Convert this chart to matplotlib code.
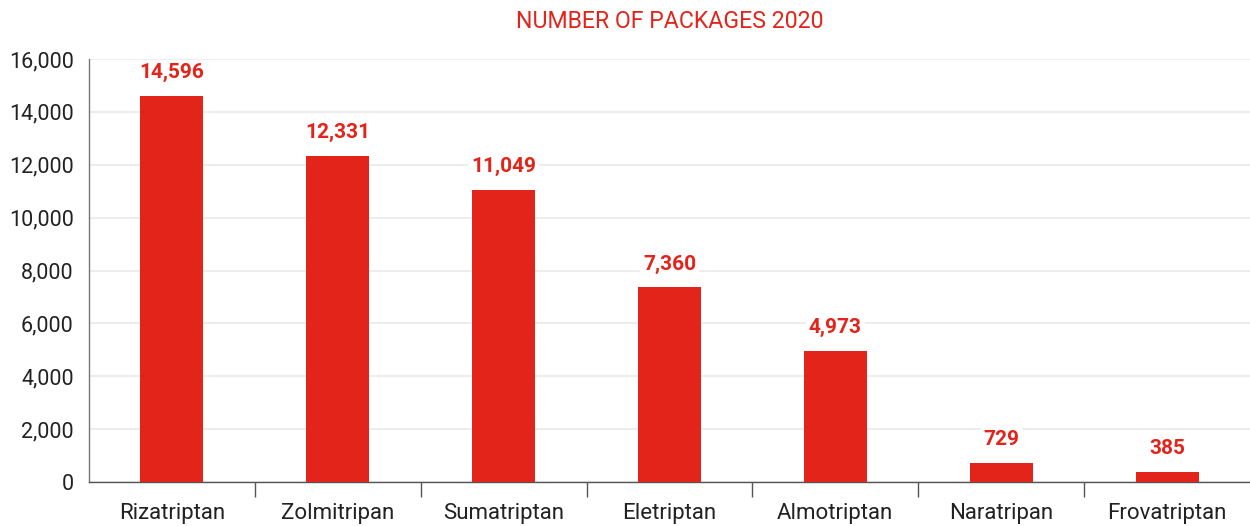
import matplotlib
matplotlib.use("Agg")
import matplotlib.pyplot as plt

categories = ["Rizatriptan", "Zolmitripan", "Sumatriptan", "Eletriptan",
              "Almotriptan", "Naratripan", "Frovatriptan"]
packages = [14596, 12331, 11049, 7360, 4973, 729, 385]
yticks = [0, 2000, 4000, 6000, 8000, 10000, 12000, 14000, 16000]
title = "NUMBER OF PACKAGES 2020"

RED = "#e3241b"
plt.rcParams['font.family'] = ['Roboto', 'DejaVu Sans']

fig = plt.figure(figsize=(12.5, 5.26), dpi=100)
ax = fig.add_axes([89/1250, 44/526, 1 - 89/1250, (482-59)/526])

x = list(range(len(categories)))
bars = ax.bar(x, packages, width=0.38, color=RED, zorder=3)
labels = ax.bar_label(bars, labels=[f"{v:,}" for v in packages], padding=10,
                      color=RED, fontsize=15, fontweight='bold', zorder=4)
for t in labels:
    t.set_bbox(dict(facecolor='white', edgecolor='none', pad=2))

ax.set_xlim(-0.5, len(categories) - 0.5)
ax.set_ylim(0, 16000)
ax.set_yticks(yticks)
ax.set_yticklabels([f"{v:,}" for v in yticks])
ax.yaxis.grid(True, color="#ececec", linewidth=1.3, zorder=0)
ax.set_axisbelow(True)

ax.set_xticks(x)
ax.set_xticklabels(categories)
ax.set_xticks([i + 0.5 for i in x[:-1]], minor=True)
ax.tick_params(axis='x', which='major', length=0, pad=15, labelsize=16, labelcolor="#222222")
ax.tick_params(axis='x', which='minor', length=11, width=1.0, color="#555555", direction='out')
ax.tick_params(axis='y', length=0, pad=11, labelsize=15.5, labelcolor="#222222")

for s in ['top', 'right']:
    ax.spines[s].set_visible(False)
ax.spines['left'].set_color("#777777")
ax.spines['bottom'].set_color("#555555")
ax.spines['left'].set_linewidth(1.0)
ax.spines['bottom'].set_linewidth(1.0)

fig.text(670/1250, 1 - 22/526, title, color=RED, fontsize=16.7, ha='center', va='center')

fig.savefig("out.png", dpi=100)
